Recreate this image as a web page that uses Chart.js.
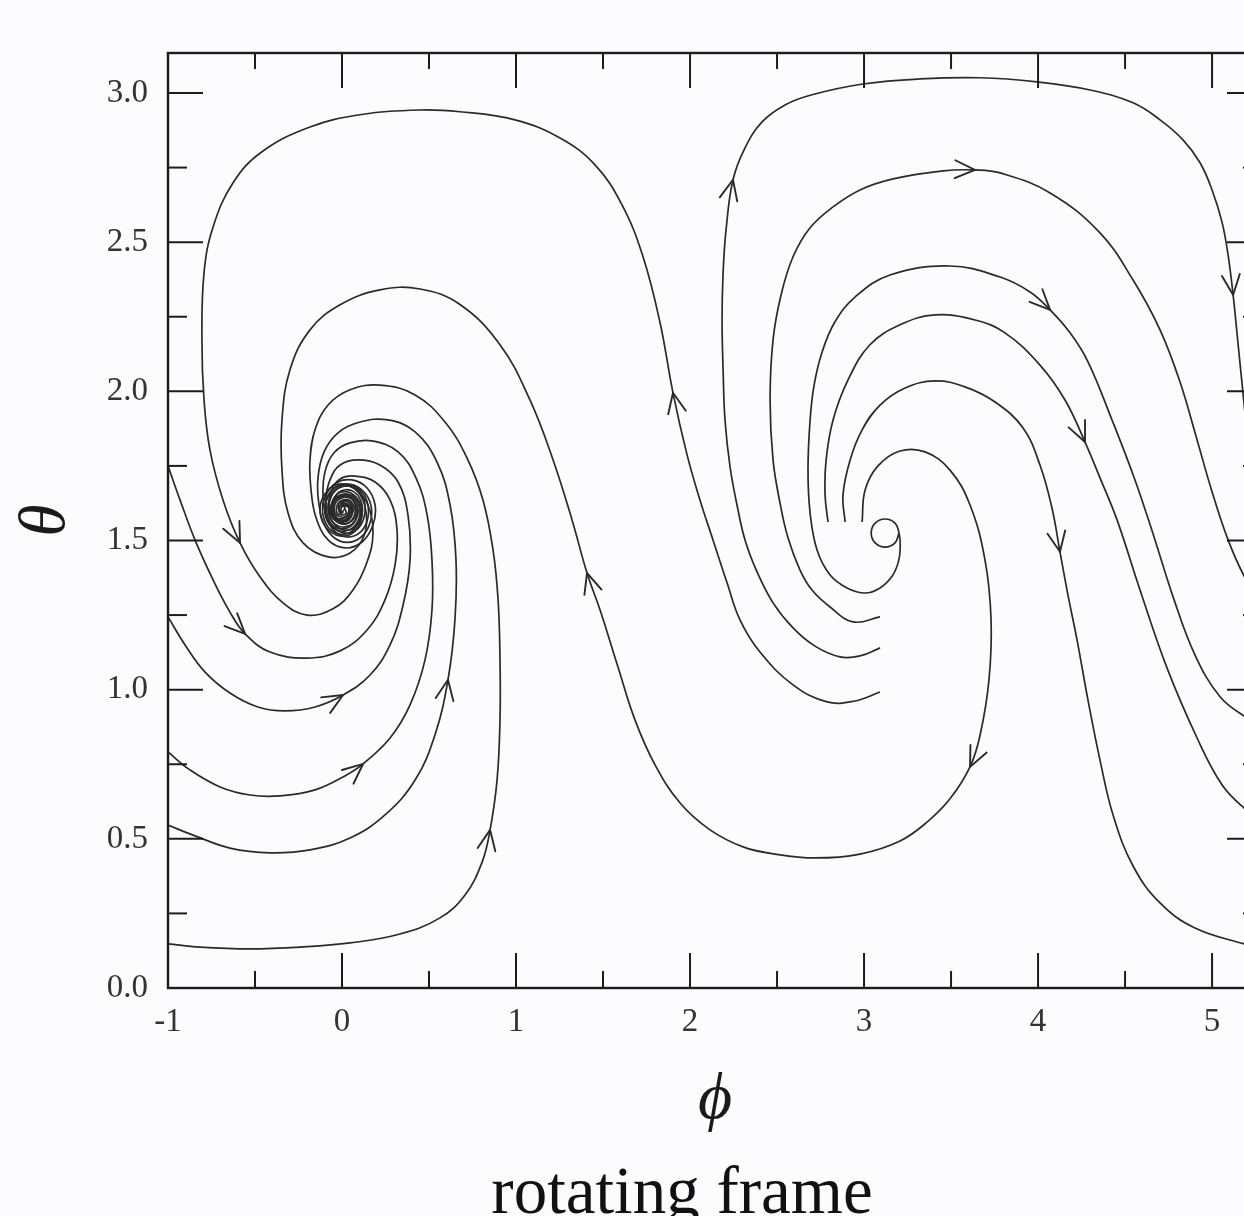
<!DOCTYPE html>
<html>
<head>
<meta charset="utf-8">
<script src="https://cdn.jsdelivr.net/npm/chart.js@4.4.1/dist/chart.umd.min.js"></script>
<style>
  html, body { margin: 0; padding: 0; overflow: hidden; background: #fcfcfe; }
  canvas { display: block; }
</style>
</head>
<body>
<canvas id="phase" width="1290" height="1216"></canvas>
<script>
// axis ticks
var xTicks = [-1, 0, 1, 2, 3, 4, 5];
var xTickLabels = ['-1', '0', '1', '2', '3', '4', '5'];
var xMinor = [-0.5, 0.5, 1.5, 2.5, 3.5, 4.5];
var yTicks = [0, 0.5, 1, 1.5, 2, 2.5, 3];
var yTickLabels = ['0.0', '0.5', '1.0', '1.5', '2.0', '2.5', '3.0'];
var yMinor = [0.25, 0.75, 1.25, 1.75, 2.25, 2.75];

// trajectories, [phi, theta], in the order of the flow
var curveBL = [[3.092,0.992],[2.948,0.962],[2.787,0.959],[2.592,1.016],[2.402,1.126],[2.287,1.234],[2.213,1.358],[2.132,1.502],[2.057,1.636],[1.983,1.787],[1.902,1.995],[1.828,2.229],[1.730,2.451],[1.609,2.625],[1.454,2.759],[1.253,2.849],[0.994,2.910],[0.678,2.937],[0.448,2.943],[0.103,2.927],[-0.184,2.886],[-0.460,2.803],[-0.626,2.699],[-0.741,2.551],[-0.793,2.397],[-0.805,2.172],[-0.793,1.971],[-0.759,1.804],[-0.684,1.636],[-0.586,1.492],[-0.471,1.378],[-0.339,1.291],[-0.201,1.250],[-0.052,1.271],[0.063,1.334],[0.144,1.428],[0.178,1.525],[0.149,1.619],[0.075,1.673],[-0.017,1.683],[-0.080,1.646],[-0.098,1.592],[-0.057,1.545],[0.023,1.532],[0.092,1.566],[0.098,1.619],[0.046,1.653],[-0.023,1.646],[-0.057,1.606],[-0.023,1.569],[0.040,1.572],[0.057,1.609],[0.017,1.633],[-0.017,1.609],[0.006,1.592]];

var curveJ = [[2.989,1.562],[3.006,1.669],[3.080,1.750],[3.207,1.800],[3.351,1.797],[3.494,1.736],[3.609,1.619],[3.695,1.435],[3.730,1.234],[3.718,1.033],[3.667,0.848],[3.609,0.741],[3.494,0.634],[3.362,0.556],[3.207,0.493],[2.977,0.449],[2.718,0.436],[2.489,0.449],[2.305,0.473],[2.115,0.530],[1.943,0.620],[1.799,0.748],[1.684,0.898],[1.586,1.076],[1.483,1.267],[1.408,1.391],[1.322,1.569],[1.213,1.770],[1.080,1.971],[0.908,2.156],[0.678,2.291],[0.448,2.343],[0.218,2.340],[-0.011,2.290],[-0.184,2.206],[-0.299,2.072],[-0.345,1.904],[-0.345,1.736],[-0.310,1.592],[-0.224,1.492],[-0.080,1.445],[0.046,1.458],[0.126,1.515],[0.138,1.596],[0.092,1.663],[0,1.690],[-0.080,1.669],[-0.126,1.612],[-0.098,1.549],[-0.011,1.515],[0.080,1.535],[0.115,1.592],[0.080,1.646],[0,1.663],[-0.057,1.629],[-0.052,1.576],[0.023,1.555],[0.075,1.592],[0.046,1.633],[-0.017,1.629],[-0.029,1.592],[0.023,1.589],[0.011,1.616]];

var curve2 = [[-1,1.750],[-0.931,1.636],[-0.845,1.502],[-0.741,1.368],[-0.644,1.260],[-0.557,1.187],[-0.414,1.126],[-0.201,1.106],[-0.011,1.130],[0.144,1.200],[0.247,1.301],[0.305,1.418],[0.316,1.535],[0.276,1.636],[0.190,1.696],[0.075,1.716],[-0.011,1.706],[-0.063,1.663],[-0.075,1.602],[-0.040,1.552],[0.040,1.535],[0.103,1.566],[0.115,1.619],[0.069,1.663],[-0.006,1.666],[-0.052,1.629],[-0.046,1.582],[0.017,1.566],[0.063,1.596],[0.040,1.633],[-0.017,1.626],[-0.011,1.592],[0.017,1.606]];

var curve3 = [[-1,1.244],[-0.902,1.150],[-0.787,1.059],[-0.644,0.989],[-0.483,0.942],[-0.328,0.929],[-0.155,0.942],[0.006,0.982],[0.161,1.049],[0.276,1.150],[0.351,1.284],[0.391,1.435],[0.379,1.586],[0.322,1.696],[0.218,1.753],[0.092,1.770],[-0.011,1.753],[-0.069,1.703],[-0.092,1.636],[-0.075,1.569],[-0.011,1.529],[0.075,1.532],[0.126,1.576],[0.126,1.636],[0.075,1.676],[-0.006,1.680],[-0.063,1.646],[-0.069,1.596],[-0.017,1.559],[0.057,1.566],[0.080,1.609],[0.040,1.643],[-0.029,1.633],[-0.040,1.592],[0.017,1.579],[0.040,1.609],[0,1.619]];

var curve4 = [[-1,0.791],[-0.874,0.731],[-0.701,0.674],[-0.529,0.647],[-0.356,0.644],[-0.155,0.664],[0.017,0.711],[0.121,0.751],[0.276,0.838],[0.391,0.949],[0.477,1.100],[0.517,1.267],[0.517,1.435],[0.489,1.586],[0.425,1.710],[0.322,1.797],[0.172,1.834],[0.046,1.827],[-0.046,1.794],[-0.098,1.730],[-0.109,1.649],[-0.086,1.572],[-0.023,1.522],[0.069,1.515],[0.138,1.555],[0.149,1.619],[0.103,1.669],[0.017,1.683],[-0.057,1.656],[-0.080,1.602],[-0.040,1.555],[0.040,1.549],[0.086,1.586],[0.069,1.636],[0,1.649],[-0.052,1.619],[-0.029,1.576],[0.034,1.582],[0.034,1.619],[-0.006,1.612]];

var curve5 = [[-1,0.546],[-0.845,0.510],[-0.644,0.469],[-0.414,0.453],[-0.184,0.463],[0.046,0.503],[0.247,0.580],[0.420,0.697],[0.534,0.848],[0.609,1.033],[0.649,1.234],[0.655,1.435],[0.621,1.619],[0.546,1.763],[0.420,1.864],[0.264,1.904],[0.103,1.897],[-0.023,1.861],[-0.103,1.797],[-0.138,1.710],[-0.132,1.619],[-0.092,1.542],[-0.011,1.498],[0.086,1.502],[0.155,1.549],[0.167,1.616],[0.115,1.669],[0.023,1.690],[-0.063,1.666],[-0.098,1.612],[-0.069,1.559],[0.011,1.539],[0.080,1.569],[0.086,1.619],[0.029,1.649],[-0.040,1.633],[-0.046,1.586],[0.017,1.569],[0.052,1.602],[0.011,1.623],[-0.011,1.599]];

var curve6 = [[-1,0.148],[-0.816,0.137],[-0.529,0.131],[-0.241,0.137],[0.046,0.151],[0.333,0.181],[0.563,0.235],[0.707,0.312],[0.805,0.422],[0.851,0.530],[0.891,0.697],[0.908,0.898],[0.908,1.100],[0.897,1.301],[0.868,1.468],[0.810,1.636],[0.718,1.777],[0.592,1.897],[0.420,1.988],[0.218,2.021],[0.046,2.005],[-0.080,1.954],[-0.155,1.871],[-0.184,1.770],[-0.178,1.669],[-0.149,1.576],[-0.080,1.502],[0.017,1.475],[0.115,1.495],[0.178,1.552],[0.190,1.619],[0.144,1.676],[0.057,1.703],[-0.034,1.693],[-0.098,1.646],[-0.109,1.586],[-0.063,1.535],[0.023,1.522],[0.092,1.555],[0.103,1.609],[0.057,1.649],[-0.023,1.649],[-0.063,1.609],[-0.029,1.566],[0.040,1.569],[0.052,1.609],[0.006,1.626],[-0.017,1.602],[0.006,1.592]];

var curveOA = [[3.092,1.140],[2.977,1.113],[2.862,1.110],[2.718,1.146],[2.592,1.207],[2.477,1.291],[2.385,1.395],[2.316,1.502],[2.270,1.619],[2.230,1.747],[2.201,1.904],[2.190,2.072],[2.184,2.239],[2.190,2.397],[2.207,2.541],[2.247,2.709],[2.316,2.816],[2.414,2.903],[2.546,2.960],[2.701,2.994],[2.994,3.030],[3.322,3.047],[3.667,3.051],[3.994,3.037],[4.299,3.010],[4.546,2.967],[4.701,2.910],[4.833,2.843],[4.931,2.766],[5.000,2.675],[5.057,2.568],[5.092,2.457],[5.121,2.323],[5.149,2.162],[5.184,1.958],[5.218,1.770],[5.264,1.569],[5.322,1.384]];

var curveA = [[3.092,1.244],[2.937,1.227],[2.805,1.277],[2.701,1.334],[2.632,1.401],[2.563,1.509],[2.517,1.626],[2.477,1.770],[2.460,1.971],[2.477,2.172],[2.523,2.323],[2.592,2.451],[2.690,2.548],[2.822,2.618],[2.977,2.675],[3.167,2.712],[3.454,2.739],[3.638,2.742],[3.782,2.732],[4.069,2.665],[4.356,2.531],[4.546,2.373],[4.701,2.206],[4.816,2.031],[4.914,1.837],[5.000,1.663],[5.092,1.502],[5.184,1.381],[5.287,1.284]];

var curveB = [[3.201,1.525],[3.178,1.492],[3.121,1.478],[3.064,1.492],[3.041,1.525],[3.064,1.558],[3.121,1.572],[3.178,1.558],[3.201,1.525],[3.208,1.482],[3.198,1.430],[3.161,1.380],[3.092,1.341],[3.006,1.324],[2.902,1.341],[2.805,1.384],[2.730,1.468],[2.690,1.592],[2.678,1.736],[2.690,1.904],[2.713,2.021],[2.759,2.132],[2.833,2.233],[2.948,2.316],[3.149,2.390],[3.494,2.420],[3.782,2.383],[3.954,2.333],[4.069,2.273],[4.184,2.196],[4.287,2.099],[4.425,1.904],[4.557,1.703],[4.672,1.502],[4.776,1.311],[4.902,1.116],[5.046,0.976],[5.184,0.912],[5.287,0.885]];

var curveC = [[2.793,1.562],[2.776,1.653],[2.782,1.770],[2.822,1.904],[2.908,2.038],[3.034,2.156],[3.207,2.223],[3.408,2.256],[3.638,2.239],[3.810,2.196],[4.011,2.088],[4.155,1.971],[4.270,1.830],[4.356,1.710],[4.454,1.569],[4.586,1.334],[4.741,1.073],[4.914,0.838],[5.057,0.681],[5.184,0.603],[5.287,0.563]];

var curveD = [[2.891,1.562],[2.879,1.653],[2.920,1.770],[2.989,1.871],[3.092,1.954],[3.236,2.011],[3.408,2.035],[3.580,2.015],[3.753,1.964],[3.914,1.877],[4.011,1.753],[4.080,1.609],[4.126,1.462],[4.172,1.317],[4.224,1.167],[4.287,0.965],[4.356,0.764],[4.431,0.580],[4.546,0.409],[4.701,0.285],[4.902,0.201],[5.184,0.148],[5.287,0.134]];

var curveNames = ['BL', 'J', 'C2', 'C3', 'C4', 'C5', 'C6', 'OA', 'A', 'B', 'C', 'D'];
var curveList = [curveBL, curveJ, curve2, curve3, curve4, curve5, curve6, curveOA, curveA, curveB, curveC, curveD];

// arrow heads: curve, phi, theta
var arrows = [
  ['BL', 1.902, 1.995], ['BL', -0.586, 1.492],
  ['J', 3.609, 0.741], ['J', 1.408, 1.391],
  ['C2', -0.557, 1.187], ['C3', 0.006, 0.982], ['C4', 0.121, 0.751],
  ['C5', 0.609, 1.033], ['C6', 0.851, 0.530],
  ['OA', 2.247, 2.709], ['OA', 5.121, 2.323],
  ['A', 3.638, 2.742], ['B', 4.069, 2.273], ['C', 4.270, 1.830], ['D', 4.126, 1.462]
];

var ink = '#2a2a2a';

var datasets = curveList.map(function (c, i) {
  return {
    label: curveNames[i],
    data: c.map(function (p) { return { x: p[0], y: p[1] }; }),
    showLine: true,
    borderColor: ink,
    borderWidth: 1.7,
    pointRadius: 0,
    tension: 0.4,
    fill: false
  };
});

var framePlugin = {
  id: 'frame',
  beforeDraw: function (chart) {
    var ctx = chart.ctx;
    ctx.save();
    ctx.fillStyle = '#fcfcfe';
    ctx.fillRect(0, 0, chart.width, chart.height);
    ctx.restore();
  },
  afterDatasetsDraw: function (chart) {
    var ctx = chart.ctx, a = chart.chartArea;
    var xs = chart.scales.x, ys = chart.scales.y;
    ctx.save();
    ctx.beginPath();
    ctx.rect(a.left, a.top, a.right - a.left, a.bottom - a.top);
    ctx.clip();
    ctx.strokeStyle = ink;
    ctx.lineWidth = 1.9;
    ctx.lineCap = 'round';
    arrows.forEach(function (ar) {
      var meta = chart.getDatasetMeta(curveNames.indexOf(ar[0]));
      var pts = meta.data;
      var tx = xs.getPixelForValue(ar[1]), ty = ys.getPixelForValue(ar[2]);
      var best = 0, bd = Infinity;
      pts.forEach(function (p, i) {
        var d = (p.x - tx) * (p.x - tx) + (p.y - ty) * (p.y - ty);
        if (d < bd) { bd = d; best = i; }
      });
      var tip = pts[best];
      var dx, dy;
      if (tip.cp2x !== undefined && tip.cp1x !== undefined) {
        dx = tip.cp2x - tip.cp1x; dy = tip.cp2y - tip.cp1y;
      } else {
        var p0 = pts[Math.max(best - 1, 0)], p1 = pts[Math.min(best + 1, pts.length - 1)];
        dx = p1.x - p0.x; dy = p1.y - p0.y;
      }
      var ang = Math.atan2(dy, dx);
      var L = 22, h = 0.42;
      ctx.beginPath();
      ctx.moveTo(tip.x - L * Math.cos(ang - h), tip.y - L * Math.sin(ang - h));
      ctx.lineTo(tip.x, tip.y);
      ctx.lineTo(tip.x - L * Math.cos(ang + h), tip.y - L * Math.sin(ang + h));
      ctx.stroke();
    });
    ctx.restore();
  },
  afterDraw: function (chart) {
    var ctx = chart.ctx, a = chart.chartArea;
    var xs = chart.scales.x, ys = chart.scales.y;
    ctx.save();
    ctx.strokeStyle = '#1c1c1c';
    ctx.lineWidth = 2.4;
    ctx.strokeRect(a.left, a.top, a.right - a.left, a.bottom - a.top);
    ctx.lineWidth = 2;
    function seg(x1, y1, x2, y2) {
      ctx.beginPath(); ctx.moveTo(x1, y1); ctx.lineTo(x2, y2); ctx.stroke();
    }
    xTicks.forEach(function (v) {
      var p = xs.getPixelForValue(v);
      seg(p, a.bottom, p, a.bottom - 35); seg(p, a.top, p, a.top + 35);
    });
    xMinor.forEach(function (v) {
      var p = xs.getPixelForValue(v);
      seg(p, a.bottom, p, a.bottom - 17); seg(p, a.top, p, a.top + 16);
    });
    yTicks.forEach(function (v) {
      var p = ys.getPixelForValue(v);
      seg(a.left, p, a.left + 35, p); seg(a.right, p, a.right - 35, p);
    });
    yMinor.forEach(function (v) {
      var p = ys.getPixelForValue(v);
      seg(a.left, p, a.left + 19, p); seg(a.right, p, a.right - 19, p);
    });
    // caption under the plot
    ctx.fillStyle = '#111';
    ctx.font = "67px 'Liberation Serif', 'DejaVu Serif', serif";
    ctx.textAlign = 'center';
    ctx.textBaseline = 'alphabetic';
    ctx.fillText('rotating frame', 682, 1213);
    ctx.restore();
  }
};

Chart.defaults.font.family = "'Liberation Serif', 'DejaVu Serif', serif";

new Chart(document.getElementById('phase').getContext('2d'), {
  type: 'scatter',
  data: { datasets: datasets },
  options: {
    responsive: false,
    animation: false,
    layout: { padding: { left: 0, right: 28, top: 53, bottom: 76 } },
    plugins: {
      legend: { display: false },
      tooltip: { enabled: false }
    },
    scales: {
      x: {
        type: 'linear',
        min: -1,
        max: 5.287,
        afterBuildTicks: function (scale) {
          scale.ticks = xTicks.map(function (v) { return { value: v }; });
        },
        afterFit: function (scale) { scale.height = 152; },
        grid: { display: false, drawTicks: false },
        border: { display: false },
        ticks: {
          autoSkip: false,
          maxRotation: 0,
          padding: 15,
          color: '#333',
          font: { size: 33 },
          callback: function (v, i) { return xTickLabels[i]; }
        },
        title: {
          display: true,
          text: 'ϕ',
          color: '#1a1a1a',
          padding: { top: 0, bottom: 0 },
          font: { size: 66, style: 'italic' }
        }
      },
      y: {
        type: 'linear',
        min: 0,
        max: 3.134,
        afterBuildTicks: function (scale) {
          scale.ticks = yTicks.map(function (v) { return { value: v }; });
        },
        afterFit: function (scale) { scale.width = 168; },
        grid: { display: false, drawTicks: false },
        border: { display: false },
        ticks: {
          autoSkip: false,
          padding: 20,
          color: '#333',
          font: { size: 33 },
          callback: function (v, i) { return yTickLabels[i]; }
        },
        title: {
          display: true,
          text: 'θ',
          color: '#1a1a1a',
          padding: { top: 7, bottom: 0 },
          font: { size: 66, style: 'italic' }
        }
      }
    }
  },
  plugins: [framePlugin]
});
</script>
</body>
</html>
